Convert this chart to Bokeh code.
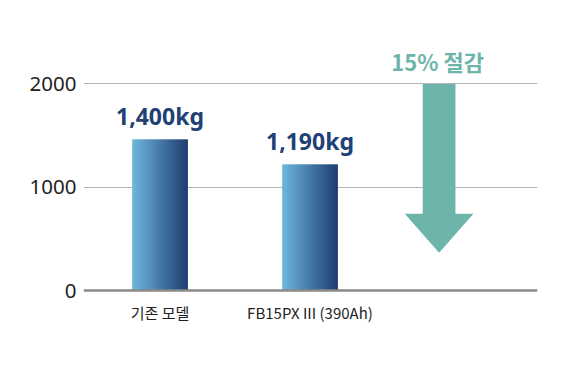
from bokeh.plotting import figure
from bokeh.models import Range1d, FixedTicker, Span
from bokeh.core.properties import value
from bokeh.embed import file_html
from bokeh.resources import INLINE

# data
categories = ["기존 모델", "FB15PX III (390Ah)"]
bar_heights = [1462, 1220]
value_labels = ["1,400kg", "1,190kg"]
y_ticks = [0, 1000, 2000]
callout_text = "15% 절감"
arrow_top = 2000
arrow_head_start = 742
arrow_tip = 365

# styles
c_left = (108, 182, 220)
c_right = (31, 61, 114)
teal = "#6db5ab"
navy = "#1e4176"

p = figure(width=568, height=378, output_backend="svg", toolbar_location=None,
           x_range=Range1d(-0.51, 2.517), y_range=Range1d(-484, 2517),
           x_axis_location=None, min_border_left=83, min_border_right=31,
           min_border_top=30, min_border_bottom=38)
p.outline_line_color = None
p.background_fill_color = "white"
p.border_fill_color = "white"

ax = p.yaxis[0]
ax.ticker = FixedTicker(ticks=y_ticks)
ax.axis_line_color = None
ax.major_tick_line_color = None
ax.minor_tick_line_color = None
ax.major_tick_out = 0
ax.major_label_standoff = 7
ax.major_label_text_font = "Noto Sans"
ax.major_label_text_font_size = "20.5px"
ax.major_label_text_color = "#222222"

p.xgrid.visible = False
p.ygrid.ticker = FixedTicker(ticks=[1000, 2000])
p.ygrid.grid_line_color = "#b3b3b3"
p.ygrid.grid_line_width = 1

# gradient bars
bar_w = 0.371
n = 56
for i, h in enumerate(bar_heights):
    left = i - bar_w / 2
    step = bar_w / n
    ls, rs, cs = [], [], []
    for k in range(n):
        t = k / (n - 1)
        col = tuple(int(round(c_left[j] + (c_right[j] - c_left[j]) * t)) for j in range(3))
        ls.append(left + k * step)
        rs.append(left + (k + 1) * step + (step * 0.8 if k < n - 1 else 0))
        cs.append("#%02x%02x%02x" % col)
    p.quad(left=ls, right=rs, bottom=[0] * n, top=[h] * n, fill_color=cs, line_color=None)

# baseline
p.add_layout(Span(location=0, dimension="width", line_color="#8a8a8a", line_width=2.5))

# value labels
p.text(x=[0, 1], y=[h + 70 for h in bar_heights], text=value_labels,
       text_font=value("Noto Sans"), text_font_style="bold", text_font_size="23px",
       text_color=navy, text_align="center", text_baseline="bottom")

# category labels
p.text(x=[0, 1], y=[-215, -215], text=categories,
       text_font=value("Noto Sans CJK KR"), text_font_size="15px",
       text_color="#222222", text_align="center", text_baseline="middle")

# arrow
ax_c = 1.861
sw = 0.109
hw = 0.229
p.patch(x=[ax_c - sw, ax_c + sw, ax_c + sw, ax_c + hw, ax_c, ax_c - hw, ax_c - sw],
        y=[arrow_top, arrow_top, arrow_head_start, arrow_head_start, arrow_tip,
           arrow_head_start, arrow_head_start],
        fill_color=teal, line_color=None)

p.text(x=[ax_c - 0.01], y=[2220], text=[callout_text],
       text_font=value("Noto Sans CJK KR"), text_font_style="bold", text_font_size="22px",
       text_color=teal, text_align="center", text_baseline="middle")

open("out.html", "w").write(file_html(p, INLINE))
